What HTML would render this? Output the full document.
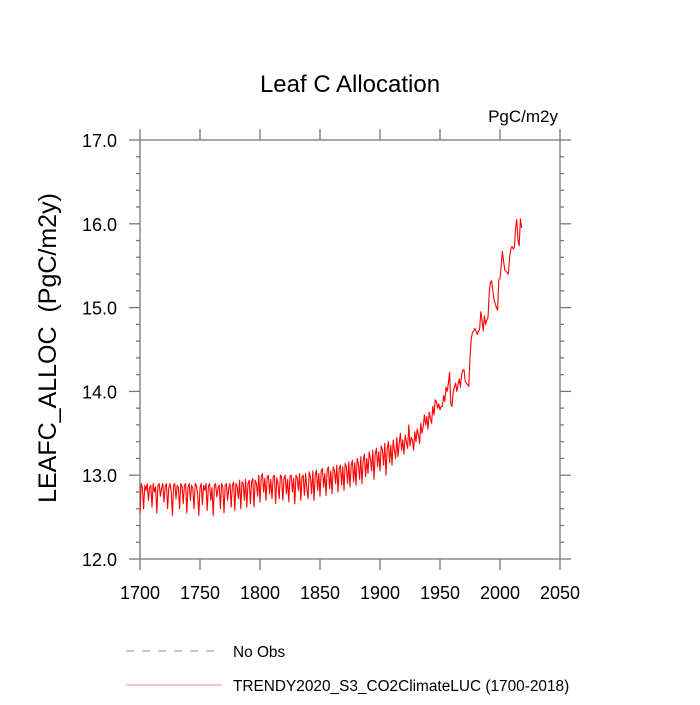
<!DOCTYPE html>
<html><head><meta charset="utf-8"><style>
body{margin:0;background:#fff;}
svg text{font-family:"Liberation Sans",sans-serif;fill:#000;}
</style></head><body>
<svg id="chart" width="700" height="700" xmlns="http://www.w3.org/2000/svg">
<text x="350" y="92" font-size="24" text-anchor="middle">Leaf C Allocation</text>
<text x="558" y="122" font-size="17" text-anchor="end">PgC/m2y</text>
<text transform="translate(56,348) rotate(-90)" font-size="25" text-anchor="middle" xml:space="preserve">LEAFC_ALLOC  (PgC/m2y)</text>
<g id="axes"></g>
<g id="series"></g>
<g>
<line x1="126" y1="651" x2="220" y2="651" stroke="#8888ff" stroke-width="1" stroke-dasharray="8,8"/>
<text x="233" y="657" font-size="15.4">No Obs</text>
<line x1="126" y1="685" x2="222" y2="685" stroke="#f08080" stroke-width="1"/>
<text x="233" y="691" font-size="15.4">TRENDY2020_S3_CO2ClimateLUC (1700-2018)</text>
</g>
</svg>
<script>
const startYear = 1700;
const xTicks = [1700,1750,1800,1850,1900,1950,2000,2050];
const yTicks = [12.0,13.0,14.0,15.0,16.0,17.0];
const values = [
12.55,12.9,12.85,12.6,12.88,12.82,12.9,12.7,12.85,12.88,
12.62,12.9,12.8,12.86,12.55,12.88,12.9,12.75,12.84,12.9,
12.68,12.87,12.9,12.6,12.85,12.9,12.8,12.52,12.88,12.9,
12.72,12.88,12.85,12.6,12.9,12.87,12.66,12.88,12.9,12.55,
12.86,12.9,12.7,12.88,12.84,12.6,12.9,12.88,12.78,12.52,
12.85,12.9,12.65,12.88,12.82,12.9,12.58,12.87,12.9,12.7,
12.85,12.52,12.88,12.9,12.74,12.85,12.88,12.6,12.9,12.86,
12.55,12.88,12.9,12.7,12.85,12.9,12.62,12.88,12.92,12.58,
12.9,12.86,12.72,12.94,12.6,12.92,12.9,12.7,12.95,12.62,
12.9,12.94,12.66,12.92,12.96,12.62,12.94,12.9,12.75,13.0,
12.68,12.98,13.02,12.8,12.96,12.7,12.98,13.0,12.78,12.95,
12.72,12.98,13.0,12.66,12.97,12.9,12.72,13.0,12.98,12.7,
12.96,13.0,12.78,12.95,12.68,12.99,13.0,12.8,12.96,12.66,
13.0,12.97,12.82,13.02,12.7,12.98,13.0,12.76,13.02,12.85,
12.72,13.04,12.98,12.78,13.05,12.7,13.0,13.06,12.82,13.02,
12.75,13.05,13.08,12.86,13.02,12.76,13.06,13.1,12.84,13.05,
12.78,13.1,13.06,12.9,13.12,12.8,13.08,13.12,12.88,13.1,
12.82,13.14,13.1,12.9,13.16,12.86,13.12,13.18,12.92,13.15,
12.88,13.2,13.14,12.95,13.22,12.9,13.18,13.25,12.98,13.2,
13.02,13.28,13.2,13.05,13.3,12.95,13.25,13.32,13.1,13.28,
13.05,13.35,13.3,13.12,13.38,13.0,13.32,13.4,13.15,13.36,
13.12,13.42,13.3,13.2,13.45,13.22,13.38,13.5,13.3,13.42,
13.25,13.48,13.4,13.32,13.6,13.35,13.45,13.42,13.3,13.52,
13.4,13.55,13.48,13.38,13.62,13.5,13.58,13.72,13.6,13.7,
13.55,13.75,13.68,13.62,13.82,13.72,13.9,13.88,13.8,13.85,
13.78,13.82,13.82,13.95,13.88,14.05,14.0,14.1,14.23,13.85,
13.82,14.0,14.05,14.1,14.0,14.08,14.15,14.05,14.2,14.25,
14.26,14.12,14.1,14.08,14.06,14.4,14.62,14.7,14.72,14.75,
14.72,14.68,14.72,14.74,14.95,14.85,14.72,14.9,14.8,14.85,
14.88,15.17,15.3,15.32,15.2,15.1,15.05,15.0,14.97,15.33,
15.35,15.5,15.67,15.55,15.45,15.43,15.42,15.4,15.6,15.7,
15.73,15.7,15.72,15.95,16.05,15.8,15.74,16.06,15.95
];
const X0=140,X1=560,Y0=559,Y1=140;
const xMin=1700,xMax=2050,yMin=12,yMax=17;
function xs(v){return X0+(v-xMin)/(xMax-xMin)*(X1-X0);}
function ys(v){return Y0-(v-yMin)/(yMax-yMin)*(Y0-Y1);}
const NS='http://www.w3.org/2000/svg';
const axes=document.getElementById('axes');
function mk(tag,attrs,parent){const e=document.createElementNS(NS,tag);for(const k in attrs)e.setAttribute(k,attrs[k]);parent.appendChild(e);return e;}
const frame=mk('rect',{x:X0,y:Y1,width:X1-X0,height:Y0-Y1,fill:'none',stroke:'#777','stroke-width':1.3},axes);


xTicks.forEach(t=>{
  const x=xs(t);
  const a=mk('line',{x1:x,y1:Y0,x2:x,y2:Y0+11,stroke:'#777','stroke-width':1.3},axes);
  
  
  const b=mk('line',{x1:x,y1:Y1,x2:x,y2:Y1-11,stroke:'#777','stroke-width':1.3},axes);
  
  
  const l=mk('text',{x:x,y:Y0+40,'font-size':18,'text-anchor':'middle'},axes);
  l.textContent=String(t);
  
  
});
for(let i=0;i<=25;i++){
  const v=yMin+i*0.2;const y=ys(v);const major=(i%5===0);const len=major?11:4;
  const a=mk('line',{x1:X0,y1:y,x2:X0-len,y2:y,stroke:'#777','stroke-width':1.3},axes);
  
  
  const b=mk('line',{x1:X1,y1:y,x2:X1+len,y2:y,stroke:'#777','stroke-width':1.3},axes);
  
  
}
yTicks.forEach(t=>{
  const l=mk('text',{x:117,y:ys(t)+7,'font-size':18,'text-anchor':'end'},axes);
  l.textContent=t.toFixed(1);
  
  
});
const pts=values.map((v,i)=>xs(startYear+i).toFixed(2)+','+ys(v).toFixed(2)).join(' ');
const line=mk('polyline',{points:pts,fill:'none',stroke:'#ff0000','stroke-width':1.1,'stroke-linejoin':'round'},document.getElementById('series'));


</script>
</body></html>
